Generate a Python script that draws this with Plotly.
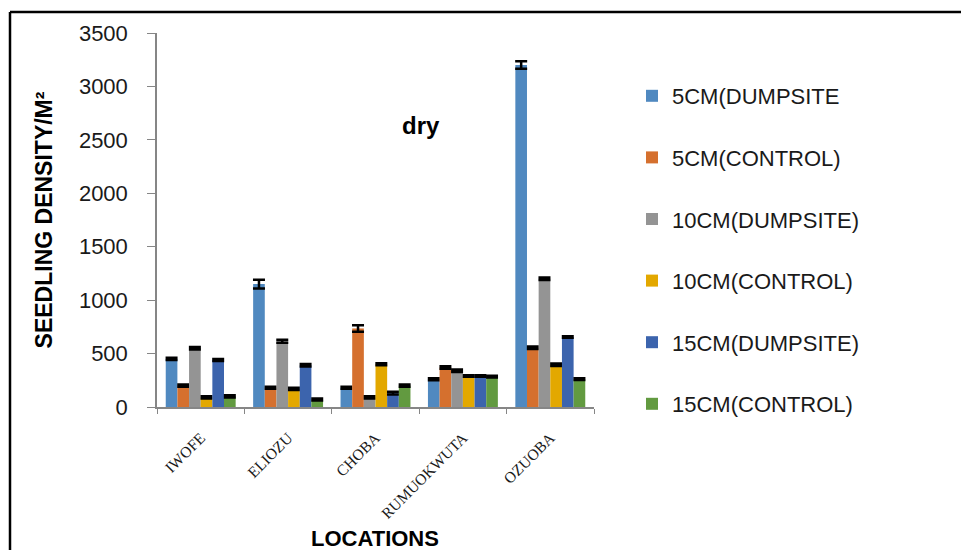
import plotly.graph_objects as go

locations = ["IWOFE", "ELIOZU", "CHOBA", "RUMUOKWUTA", "OZUOBA"]
series_names = ["5CM(DUMPSITE", "5CM(CONTROL)", "10CM(DUMPSITE)",
                "10CM(CONTROL)", "15CM(DUMPSITE)", "15CM(CONTROL)"]
cm5_dump = [450, 1150, 180, 260, 3200]
cm5_ctrl = [200, 180, 735, 370, 555]
cm10_dump = [550, 615, 90, 340, 1200]
cm10_ctrl = [90, 170, 400, 290, 395]
cm15_dump = [440, 390, 130, 290, 655]
cm15_ctrl = [100, 70, 200, 285, 260]
err5_dump = [10, 40, 10, 10, 35]
err5_ctrl = [10, 10, 30, 12, 12]
err10_dump = [12, 14, 10, 12, 12]
err10_ctrl = [10, 10, 10, 8, 12]
err15_dump = [10, 12, 12, 8, 8]
err15_ctrl = [10, 10, 10, 8, 8]

values = [cm5_dump, cm5_ctrl, cm10_dump, cm10_ctrl, cm15_dump, cm15_ctrl]
errors = [err5_dump, err5_ctrl, err10_dump, err10_ctrl, err15_dump, err15_ctrl]
colors = ["#5089C0", "#D5702E", "#949494", "#E3A800", "#3C64AD", "#629A40"]

# body margin is removed below, so the figure fills the window exactly
W, H = 961, 550
L, T = 157, 33
PW, PH = 437, 374
R, B = W - L - PW, H - T - PH


def px_x(p):
    return (p - L) / PW


def px_y(p):
    return (T + PH - p) / PH


fig = go.Figure()
for i, (name, vals, errs, col) in enumerate(zip(series_names, values, errors, colors)):
    fig.add_trace(go.Bar(
        x=locations, y=vals, name=name, legendgroup=f"g{i}",
        marker=dict(color=col, line=dict(width=0)),
        error_y=dict(type="data", array=errs, visible=True,
                     color="black", thickness=2.5, width=6),
    ))

fig.update_layout(
    width=W, height=H,
    margin=dict(l=L, r=R, t=T, b=B),
    paper_bgcolor="white", plot_bgcolor="white",
    barmode="group", bargap=0.2, bargroupgap=0,
    font=dict(family="Liberation Sans, Arial, sans-serif", color="#1a1a1a"),
    showlegend=True,
    legend=dict(x=px_x(632), y=px_y(75), xanchor="left", yanchor="top",
                font=dict(size=22, family="Liberation Sans, Arial, sans-serif"),
                tracegroupgap=30, bgcolor="rgba(0,0,0,0)"),
    xaxis=dict(
        showline=True, linecolor="#868686", linewidth=1.5,
        ticks="outside", tickson="boundaries", ticklen=5, tickcolor="#868686",
        tickangle=-45, ticklabelstandoff=14,
        tickfont=dict(family="Liberation Serif, Times New Roman, serif", size=15.5, color="#1a1a1a"),
        showgrid=False, zeroline=False,
    ),
    yaxis=dict(
        range=[0, 3500], dtick=500,
        showline=True, linecolor="#868686", linewidth=1.5,
        ticks="outside", ticklen=8, tickcolor="#868686",
        ticklabelstandoff=15,
        tickfont=dict(size=22, color="#1a1a1a"),
        showgrid=False, zeroline=False,
        title=dict(text="<b>SEEDLING DENSITY/M²</b>", standoff=20,
                   font=dict(size=23, family="Liberation Sans, Arial, sans-serif", color="black")),
    ),
    annotations=[
        dict(text="<b>dry</b>", x=px_x(421), y=px_y(125), xref="paper", yref="paper",
             xanchor="center", yanchor="middle",
             showarrow=False, font=dict(size=24, color="black")),
        dict(text="<b>LOCATIONS</b>", x=px_x(375), y=px_y(538),
             xref="paper", yref="paper", xanchor="center", yanchor="middle",
             showarrow=False, font=dict(size=22, color="black")),
    ],
    shapes=[
        dict(type="line", xref="paper", yref="paper",
             x0=px_x(10), x1=px_x(975), y0=px_y(12), y1=px_y(12),
             line=dict(color="black", width=2.5)),
        dict(type="line", xref="paper", yref="paper",
             x0=px_x(10), x1=px_x(10), y0=px_y(12), y1=px_y(570),
             line=dict(color="black", width=2.5)),
    ],
)

fig.write_html(
    "out.html",
    config={"displayModeBar": False},
    post_script="document.body.style.margin='0';document.body.style.overflow='hidden';",
)
